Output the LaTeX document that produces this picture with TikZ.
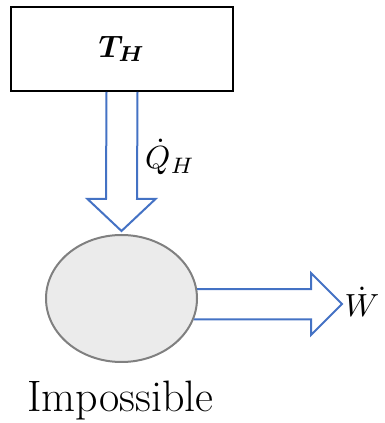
\documentclass[tikz,border=0pt]{standalone}
\usepackage{amsmath}
\usetikzlibrary{shapes.geometric,calc}
\definecolor{flowblue}{HTML}{4472C4}
\definecolor{enginegray}{HTML}{EBEBEB}
\begin{document}
\begin{tikzpicture}[x=1pt,y=1pt,
  flow/.style={draw=flowblue,line width=2pt,line join=miter}]
\useasboundingbox (0,0) rectangle (385,423);
% hot reservoir and engine
\node[draw,line width=2pt,minimum width=222pt,minimum height=84pt,inner sep=0pt] (hot) at (122,374) {\scalebox{3.1}{$\boldsymbol{T_H}$}};
\node[ellipse,draw=gray,fill=enginegray,line width=2pt,minimum width=151pt,minimum height=127pt,inner sep=0pt] (engine) at (121.5,124.5) {};
% heat in
\coordinate (qtip) at ($(engine.north)+(0,3)$);
\draw[flow] ($(hot.south)+(-15.5,0)$) -- ($(qtip)+(-15.5,32)$) -- ($(qtip)+(-34,32)$) -- (qtip) -- ($(qtip)+(34,32)$) -- ($(qtip)+(15.5,32)$) -- ($(hot.south)+(15.5,0)$);
\node[inner sep=0pt] (qlabel) at (170,266) {\scalebox{3.2}{$\dot{Q}_H$}};
% work out
\coordinate (wtip) at (342,119);
\coordinate (whead) at ($(wtip)+(-31,0)$);
\draw[flow] (engine.7) -- (engine.7 -| whead) -- ($(whead)+(0,31)$) -- (wtip) -- ($(whead)+(0,-31)$) -- (engine.-16 -| whead) -- (engine.-16);
\node[inner sep=0pt] (wlabel) at (362,121) {\scalebox{3.2}{$\dot{W}$}};
\node[anchor=base,inner sep=0pt] (caption) at (120.5,11) {\fontsize{44}{52}\selectfont Impossible};
\end{tikzpicture}
\end{document}
